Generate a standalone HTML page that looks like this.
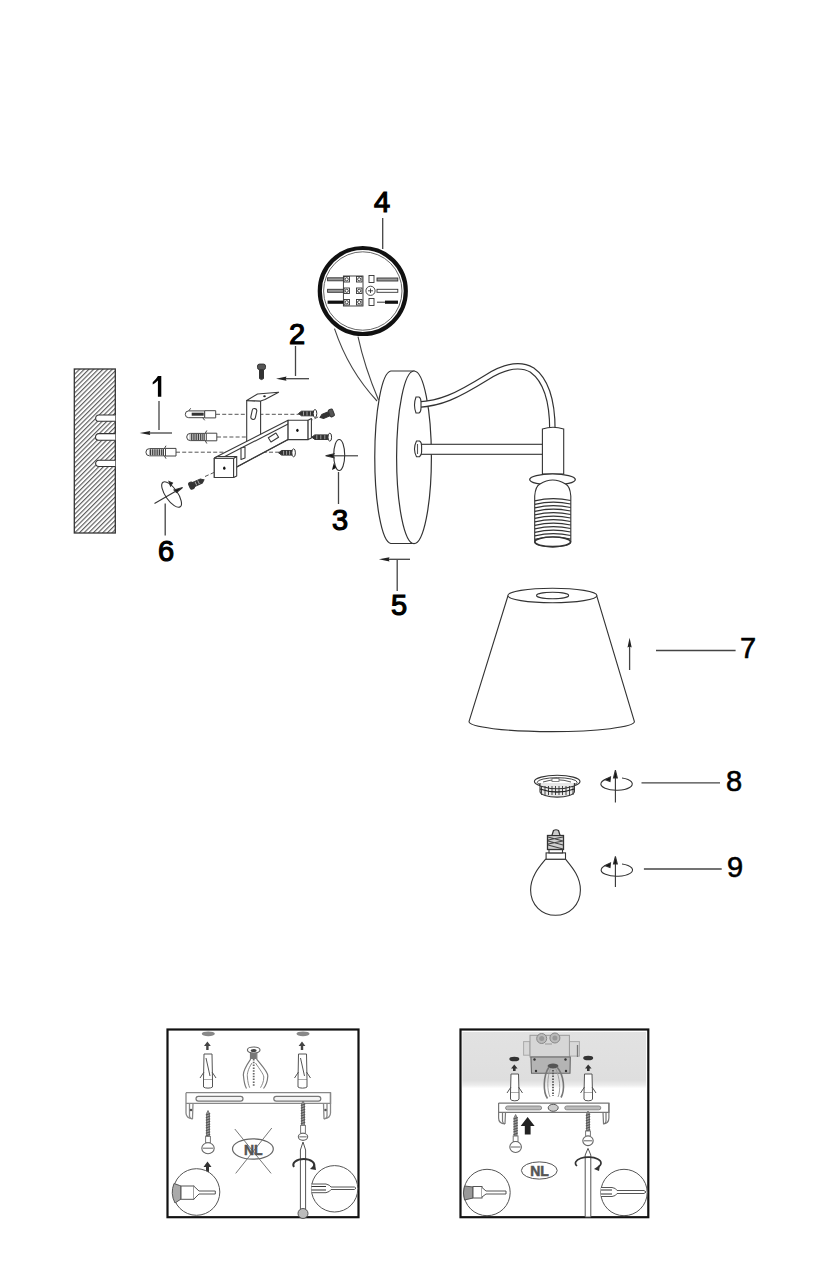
<!DOCTYPE html>
<html><head><meta charset="utf-8">
<style>
html,body{margin:0;padding:0;background:#fff;}
body{width:827px;height:1280px;overflow:hidden;}
svg{display:block;}
text{font-family:"Liberation Sans",sans-serif;}
</style></head><body>
<svg width="827" height="1280" viewBox="0 0 827 1280">
<defs>
<pattern id="hatch" patternUnits="userSpaceOnUse" width="3.3" height="3.3" patternTransform="rotate(45)">
<rect width="3.3" height="3.3" fill="#fff"/>
<line x1="0.6" y1="0" x2="0.6" y2="3.3" stroke="#555" stroke-width="1.1"/>
</pattern>
<pattern id="ribs" patternUnits="userSpaceOnUse" width="1.8" height="4">
<rect width="1.8" height="4" fill="#ccc"/>
<rect width="0.9" height="4" fill="#333"/>
</pattern>
<linearGradient id="ceil" x1="0" y1="0" x2="0" y2="1">
<stop offset="0" stop-color="#e2e2e2"/>
<stop offset="0.5" stop-color="#e0e0e0"/>
<stop offset="0.86" stop-color="#dedede"/>
<stop offset="0.95" stop-color="#ededed"/>
<stop offset="1" stop-color="#fdfdfd"/>
</linearGradient>
</defs>

<!-- ===== Labels ===== -->
<path d="M157.9,376.1 H161.3 V396.8 H157.9 V380.6 Q155.5,383.2 152.7,384.6 V382.2 Q155.8,379.8 157.9,376.1 Z" fill="#000"/>
<g id="labels" font-size="29" fill="#000" text-anchor="middle">
<g stroke="#000" stroke-width="1.2">
<text x="297" y="344">2</text>
<text x="340" y="530">3</text>
<text x="382" y="212">4</text>
<text x="399" y="615">5</text>
<text x="166" y="561">6</text>
</g>
<g stroke="#000" stroke-width="0.6">
<text x="748" y="658">7</text>
<text x="734" y="791">8</text>
<text x="735" y="877">9</text>
</g>
</g>

<!-- leader lines and arrows -->
<g id="leaders" stroke="#444" stroke-width="1.3" fill="none">
<line x1="159" y1="401" x2="159" y2="430"/>
<line x1="148" y1="433" x2="172" y2="433"/>
<line x1="295.5" y1="346" x2="295.5" y2="376"/>
<line x1="284" y1="378.7" x2="309" y2="378.7"/>
<line x1="338.5" y1="472" x2="338.5" y2="504"/>
<line x1="382.7" y1="218" x2="382.7" y2="249"/>
<line x1="397.2" y1="560" x2="397.2" y2="591"/>
<line x1="387" y1="559.3" x2="410" y2="559.3"/>
<line x1="165.2" y1="503.6" x2="165.2" y2="535.6"/>
<line x1="656" y1="650.5" x2="735.6" y2="650.5"/>
<line x1="629.6" y1="645" x2="629.6" y2="670"/>
<line x1="641.5" y1="782.8" x2="720" y2="782.8"/>
<line x1="643.9" y1="869" x2="721.7" y2="869"/>
</g>
<g id="arrowheads" fill="#222">
<polygon points="139.7,433 150.3,430.9 149.5,433 150.3,435.1"/>
<polygon points="276,378.7 286.5,376.6 285.7,378.7 286.5,380.8"/>
<polygon points="378.9,559.3 389.5,557.2 388.7,559.3 389.5,561.4"/>
<polygon points="629.6,637.8 627.5,647.5 629.6,646.5 631.7,647.5"/>
</g>

<!-- ===== Wall block ===== -->
<g id="wall">
<rect x="74.3" y="369" width="41" height="164" fill="url(#hatch)" stroke="#333" stroke-width="1.3"/>
<g fill="#fff" stroke="#333" stroke-width="1.1">
<path d="M115.3,415 H98.8 A3.15,3.15 0 0 0 98.8,421.3 H115.3"/>
<path d="M115.3,433.6 H98.8 A3.3,3.3 0 0 0 98.8,440.2 H115.3"/>
<path d="M115.3,460.2 H98.8 A3.15,3.15 0 0 0 98.8,466.5 H115.3"/>
</g>
</g>


<!-- ===== Bracket ===== -->
<g id="bracket" stroke="#3a3a3a" stroke-width="1.1" fill="#fff" stroke-linejoin="round">
<!-- dashed lines -->
<g stroke="#555" stroke-width="1" stroke-dasharray="4,2.2" fill="none">
<line x1="216" y1="414.3" x2="300" y2="414.3"/>
<line x1="217" y1="437" x2="312" y2="437"/>
<line x1="176" y1="452.2" x2="279" y2="452.2"/>
<line x1="205" y1="476.5" x2="224" y2="468"/>
<line x1="309" y1="421.5" x2="320" y2="416"/>
</g>
<!-- vertical plate -->
<polygon points="246.7,400.5 260.6,401 260.6,436 246.7,442"/>
<polygon points="246.7,400.5 257.5,394 278.6,392.2 265,399.5 260.6,401"/>
<ellipse cx="264.5" cy="396.2" rx="1.3" ry="1" fill="#222" stroke="none"/>
<rect x="251.5" y="408.5" width="4.6" height="11" rx="2.3" transform="rotate(12 253.8 414)"/>
<!-- beam -->
<polygon points="217,456.5 288.1,420.3 288.1,439.6 236.7,467 233.6,477.5 214.3,477.5 214.3,458.2"/>
<line x1="219" y1="459.5" x2="290" y2="423" fill="none"/>
<line x1="236.7" y1="466.9" x2="288.1" y2="439.6" fill="none"/>
<!-- right box -->
<rect x="288.1" y="420.3" width="20" height="19.3"/>
<polygon points="308.1,420.3 311.4,418.5 311.4,438 308.1,439.6"/>
<ellipse cx="297.4" cy="430.3" rx="1.2" ry="1.6" fill="#111" stroke="none"/>
<!-- left box -->
<rect x="214.3" y="458.2" width="19.3" height="19.3"/>
<polygon points="233.6,458.2 236.7,456.5 236.7,476 233.6,477.5"/>
<polygon points="214.3,458.2 217,456.5 236.7,456.5 233.6,458.2"/>
<ellipse cx="224.3" cy="468.2" rx="1.2" ry="1.6" fill="#111" stroke="none"/>
<!-- slots -->
<rect x="269" y="435" width="9" height="5" transform="rotate(-32 273.5 437.6)"/>
<polygon points="241,448 245,447 245,458 241,459.5"/>
</g>

<!-- ===== Plugs ===== -->
<g id="plugs" stroke="#444" stroke-width="1" stroke-linejoin="round">
<g transform="translate(146.5,452.2)">
<path d="M3,-3.6 H17 V3.6 H3 A3.6,3.6 0 0 1 3,-3.6 Z" fill="#fff"/>
<rect x="2.5" y="-3" width="14" height="6" fill="url(#ribs)" stroke="none"/>
<rect x="19" y="-3.8" width="10.5" height="7.6" fill="#fff"/>
<path d="M17,-3.6 L19,-3.8 M17,3.6 L19,3.8 M18,-3.8 L19.5,-6.5 M18,3.8 L19.5,6.5" fill="none"/>
</g>
<g transform="translate(187.3,437)">
<path d="M3,-3.6 H17 V3.6 H3 A3.6,3.6 0 0 1 3,-3.6 Z" fill="#fff"/>
<rect x="2.5" y="-3" width="14" height="6" fill="url(#ribs)" stroke="none"/>
<rect x="19" y="-3.8" width="10.5" height="7.6" fill="#fff"/>
<path d="M17,-3.6 L19,-3.8 M17,3.6 L19,3.8 M18,-3.8 L19.5,-6.5 M18,3.8 L19.5,6.5" fill="none"/>
</g>
<g transform="translate(185.7,414.3)">
<path d="M3,-3.4 H19 V3.4 H3 A3.4,3.4 0 0 1 3,-3.4 Z" fill="#fff"/>
<rect x="6" y="-1.6" width="12" height="3" fill="#333" stroke="none"/>
<rect x="19" y="-3.6" width="11" height="7.2" fill="#fff"/>
<path d="M3,-3.4 L5,-6 M17,3.4 L19,6" fill="none"/>
</g>
</g>

<!-- ===== Screws ===== -->
<g id="screws" stroke="#333" stroke-width="1">
<g transform="translate(278.6,452.8)">
<path d="M0,0 L3,-2.3 H13.5 V2.3 H3 Z" fill="#333"/>
<path d="M5,-2 V2 M8,-2 V2 M11,-2 V2" stroke="#bbb" stroke-width="0.8"/>
<ellipse cx="15" cy="0" rx="1.8" ry="4" fill="#fff"/>
</g>
<g transform="translate(298.5,413.5)">
<path d="M0,0 L3,-2.3 H15 V2.3 H3 Z" fill="#333"/>
<path d="M5,-2 V2 M8.5,-2 V2 M12,-2 V2" stroke="#bbb" stroke-width="0.8"/>
<ellipse cx="16.5" cy="0" rx="1.8" ry="4" fill="#fff"/>
</g>
<g transform="translate(311.8,437.2)">
<path d="M0,0 L3,-2.3 H16 V2.3 H3 Z" fill="#333"/>
<path d="M5,-2 V2 M9,-2 V2 M13,-2 V2" stroke="#bbb" stroke-width="0.8"/>
<ellipse cx="18" cy="0" rx="1.8" ry="4" fill="#fff"/>
</g>
<g transform="translate(320,417.5) rotate(-22)">
<path d="M0,0 L3,-2.2 H10 V2.2 H3 Z" fill="#333"/>
<rect x="10" y="-3.8" width="4.5" height="7.6" rx="1.5" fill="#555"/>
</g>
<g transform="translate(189.5,486.5) rotate(-25)">
<rect x="0" y="-3.6" width="4.5" height="7.2" rx="2" fill="#333"/>
<path d="M4.5,-2.3 H13 L16,0 L13,2.3 H4.5 Z" fill="#333"/>
<path d="M7,-2 V2 M10,-2 V2" stroke="#bbb" stroke-width="0.8"/>
</g>
<g transform="translate(261.5,379.6) rotate(-90)">
<path d="M0,0 L1,-2 H10 V2 H1 Z" fill="#333"/>
<rect x="10" y="-4" width="5.5" height="8" rx="2" fill="#555"/>
</g>
</g>

<!-- ===== rotation icons 3 & 6 ===== -->
<g id="rot36" stroke="#333" stroke-width="1.1" fill="none">
<ellipse cx="339.2" cy="455" rx="5.5" ry="15.5"/>
<line x1="330" y1="455.8" x2="358" y2="455.8"/>
<polygon points="325.6,455.8 334,453.8 333,455.8 334,457.8" fill="#111"/>
<polygon points="333.8,463 332,470 336,468" fill="#111" stroke="none"/>
<ellipse cx="171.6" cy="494.5" rx="6" ry="15" transform="rotate(-35 171.6 494.5)"/>
<line x1="154.5" y1="503.6" x2="177" y2="490.5"/>
<polygon points="182.6,487.6 174,490 176.5,492.5" fill="#111"/>
<polygon points="169,481.5 172.5,483 170.5,486" fill="#111"/>
</g>


<!-- ===== Circle 4 (wiring detail) ===== -->
<g id="c4">
<path d="M334.5,328.7 C345,360 362,385 377,401" stroke="#444" stroke-width="1.1" fill="none"/>
<path d="M358,336.7 C363,360 370,380 378.5,400" stroke="#444" stroke-width="1.1" fill="none"/>
<circle cx="362.8" cy="291" r="43" fill="#fff" stroke="#111" stroke-width="4.2"/>
<circle cx="362.8" cy="291" r="39.2" fill="none" stroke="#555" stroke-width="0.9"/>
<g stroke="#333" stroke-width="0.9" fill="#fff">
<rect x="343.4" y="276" width="19.6" height="30" fill="#fff"/>
<rect x="344" y="276.5" width="5.5" height="5.5"/><rect x="356.5" y="276.5" width="5.5" height="5.5"/>
<rect x="344" y="288" width="5.5" height="5.5"/><rect x="356.5" y="288" width="5.5" height="5.5"/>
<rect x="344" y="299.5" width="5.5" height="5.5"/><rect x="356.5" y="299.5" width="5.5" height="5.5"/>
<circle cx="346.7" cy="279.3" r="1.6"/><circle cx="359.2" cy="279.3" r="1.6"/>
<circle cx="346.7" cy="290.8" r="1.6"/><circle cx="359.2" cy="290.8" r="1.6"/>
<circle cx="346.7" cy="302.2" r="1.6"/><circle cx="359.2" cy="302.2" r="1.6"/>
<rect x="327.6" y="277.8" width="15.8" height="3" fill="#999"/>
<rect x="327.6" y="289.3" width="15.8" height="3" fill="#999"/>
<rect x="369" y="275.5" width="5" height="7"/>
<rect x="369" y="298.5" width="5" height="7"/>
<circle cx="370.5" cy="290.8" r="4.6"/>
<line x1="368" y1="290.8" x2="373" y2="290.8"/><line x1="370.5" y1="288.5" x2="370.5" y2="293"/>
<rect x="377" y="278" width="20.8" height="3" fill="#999"/>
<rect x="377" y="289.3" width="20.8" height="3" fill="#fff"/>
</g>
<rect x="327.6" y="300.6" width="15.8" height="3.2" fill="#111"/>
<rect x="385" y="300.6" width="13" height="3.2" fill="#111"/>
<line x1="377" y1="302.2" x2="385" y2="302.2" stroke="#333" stroke-width="1"/>
</g>

<!-- ===== Disc (wall plate) ===== -->
<g id="disc" stroke="#333" stroke-width="1.2" fill="#fff">
<path d="M390.8,371 H414 V543.5 H390.8 A16.6,86.3 0 0 1 390.8,371 Z"/>
<ellipse cx="414" cy="457.3" rx="17.4" ry="86.3"/>
</g>
<!-- arm -->
<g id="arm" fill="none" stroke-linecap="butt">
<path d="M418.5,404.6 C440,403.5 455,397 487,377.2 C505,366 520,363 532,370 C546,380 552.4,400 552.4,430" stroke="#333" stroke-width="6.6"/>
<path d="M418.5,404.6 C440,403.5 455,397 487,377.2 C505,366 520,363 532,370 C546,380 552.4,400 552.4,430" stroke="#fff" stroke-width="4.2"/>
<rect x="421" y="444.3" width="123" height="10" fill="#fff" stroke="#333" stroke-width="1.1"/>
</g>
<g stroke="#333" stroke-width="1.1" fill="#fff">
<path d="M416,397 Q413,405 416,413 H419 Q421,412 421,408 V402 Q421,398 419,397 Z"/>
<path d="M416.5,441 Q412.5,449 416.5,456.7 H419.5 Q421.6,455 421.6,452 V446 Q421.6,442 419.5,441 Z"/>
<line x1="417.5" y1="444" x2="417.5" y2="454" stroke="#555"/>
</g>
<!-- socket -->
<g id="socket" stroke="#333" stroke-width="1.1" fill="#fff">
<path d="M542.4,474 V429 Q553,425.5 563.7,429 V474 Z"/>
<ellipse cx="552.5" cy="479.5" rx="22.8" ry="5.6" stroke-width="1.3"/>
<path d="M534.7,542 V496 Q535.5,486 540,484 Q552.7,476 565.5,484 Q570,486 570.8,496 V542 A18.05,5 0 0 1 534.7,542 Z"/>
<g fill="none" stroke="#333" stroke-width="1.2">
<path d="M534.8,500.8 Q552.7,496.8 570.7,500.5"/>
<path d="M534.8,504.3 Q552.7,500.3 570.7,504.0"/>
<path d="M534.8,507.8 Q552.7,503.8 570.7,507.5"/>
<path d="M534.8,511.3 Q552.7,507.3 570.7,511.0"/>
<path d="M534.8,514.8 Q552.7,510.8 570.7,514.5"/>
<path d="M534.8,518.3 Q552.7,514.3 570.7,518.0"/>
<path d="M534.8,521.8 Q552.7,517.8 570.7,521.5"/>
<path d="M534.8,525.3 Q552.7,521.3 570.7,525.0"/>
<path d="M534.8,528.8 Q552.7,524.8 570.7,528.5"/>
<path d="M534.8,532.3 Q552.7,528.3 570.7,532.0"/>
<path d="M534.8,535.8 Q552.7,531.8 570.7,535.5"/>
<path d="M534.8,539.3 Q552.7,535.3 570.7,539.0"/>
</g>
<ellipse cx="552.7" cy="541.8" rx="17.8" ry="4.8" fill="#fff" stroke-width="1.6"/>
</g>

<!-- ===== Shade ===== -->
<g id="shade" stroke="#333" stroke-width="1.1" fill="#fff">
<path d="M507.9,596 L469,721.6 A82.7,10 0 0 0 634.4,721.6 L596.8,596 Z"/>
<ellipse cx="552.4" cy="595.5" rx="44.5" ry="7.3"/>
<ellipse cx="552.6" cy="595.5" rx="16" ry="3.2"/>
</g>

<!-- ===== Ring 8 ===== -->
<g id="ring" stroke="#333" stroke-width="1" fill="#fff">
<ellipse cx="557.2" cy="781.5" rx="22.8" ry="6.2" stroke-width="1.1"/>
<ellipse cx="557.2" cy="782.3" rx="20" ry="4.6" fill="none" stroke="#444"/>
<path d="M540,783 V791.5 A17.2,5.6 0 0 0 574.4,791.5 V783" fill="#e8e8e8" stroke-width="1.1"/>
<path d="M541.5,786 V795 M545.0,786 V795 M548.5,786 V795 M552.0,786 V795 M555.5,786 V795 M559.0,786 V795 M562.5,786 V795 M566.0,786 V795 M569.5,786 V795 M573.0,786 V795 " stroke="#444" stroke-width="1"/>
<path d="M540,789 Q557,795 574.4,789" fill="none" stroke="#222" stroke-width="1.3"/>
<path d="M540,786 Q557,791.5 574.4,786" fill="none" stroke="#333" stroke-width="1.2"/>
<path d="M543,782 Q557,777.5 571,782" fill="none" stroke="#555" stroke-width="1"/>
<rect x="552" y="778.5" width="7" height="3" fill="#fff" stroke="#666" stroke-width="0.8"/>
</g>

<!-- ===== Bulb 9 ===== -->
<g id="bulb" stroke="#333" stroke-width="1.1" fill="#fff">
<path d="M545.6,859.2 C540,866 530.6,876 530.6,890 C530.6,905 542,915.3 555.5,915.3 C569,915.3 580.4,905 580.4,890 C580.4,876 571,866 565.5,859.2 Z"/>
<rect x="546.1" y="852.9" width="19.4" height="6.3"/>
<rect x="549" y="849.5" width="13.5" height="3.4"/>
<rect x="547.5" y="835.5" width="16" height="14" fill="#d0d0d0" stroke-width="1.3"/>
<path d="M548,837 L563,841 M548,841 L563,845 M548,845 L563,849 M548,840 L563,837 M548,844 L563,841" stroke="#444" stroke-width="1.2"/>
<path d="M551.9,835.5 L553.5,830.5 Q556,829 558.5,830.5 L560.1,835.5 Z" fill="#ccc" stroke-width="1.2"/>
</g>

<!-- ===== rotation icons 8 & 9 ===== -->
<g id="rot89" stroke="#333" stroke-width="1.1" fill="none">
<path d="M609,778.4 A15.7,6.3 0 1 0 622,778"/>
<line x1="615.4" y1="774" x2="615.4" y2="802.5"/>
<polygon points="615.4,770.2 613.5,778 617.3,778" fill="#111"/>
<polygon points="605,779.6 610.5,777 610,781.5" fill="#111"/>
<path d="M609,864.5 A15.7,6.3 0 1 0 622,864"/>
<line x1="615.4" y1="860" x2="615.4" y2="887"/>
<polygon points="615.4,856.4 613.5,864 617.3,864" fill="#111"/>
<polygon points="605,865.6 610.5,863 610,867.5" fill="#111"/>
</g>


<!-- ===== Bottom-left box ===== -->
<g id="boxL">
<rect x="167.5" y="1029.5" width="191" height="187.7" fill="#fff" stroke="#111" stroke-width="2.2"/>
<g stroke="#555" stroke-width="1" fill="#fff">
<!-- top ellipses -->
<ellipse cx="208.3" cy="1033.8" rx="6.5" ry="2.4" fill="#888" stroke="none"/>
<ellipse cx="303" cy="1033.8" rx="6.5" ry="2.4" fill="#888" stroke="none"/>
<!-- up arrows -->
<path d="M207.4,1041.5 L204,1046 H206.2 V1050 H208.6 V1046 H210.8 Z" fill="#444" stroke="none"/>
<path d="M302,1041.5 L298.6,1046 H300.8 V1050 H303.2 V1046 H305.4 Z" fill="#444" stroke="none"/>
<!-- plugs -->
<path d="M204,1054 H212 L212.5,1080 H203.5 Z"/>
<path d="M203.5,1080 V1087 A5,2 0 0 0 212.5,1087 V1080"/>
<path d="M204,1072 L200,1078 M212,1072 L216,1078 M206,1058 L210,1076" fill="none"/>
<path d="M298.5,1054 H306.5 L307,1080 H298 Z"/>
<path d="M298,1080 V1087 A5,2 0 0 0 307,1087 V1080"/>
<path d="M298.5,1072 L294.5,1078 M306.5,1072 L310.5,1078 M300.5,1058 L304.5,1076" fill="none"/>
<!-- cable clamp -->
<path d="M250.5,1052 V1059.4 C246,1066 242.5,1072 243.5,1076 C244,1082 245,1086 246.5,1088.5 M256.8,1052 V1059.4 C262,1066 268,1072 267.8,1076 C267.5,1082 265.5,1086 263.5,1088.5" fill="none" stroke="#777" stroke-width="1.2"/>
<path d="M252,1063 C248,1069 247,1074 247.4,1077 C247.8,1082 248.5,1085 249.7,1087.7 M255.5,1063 C259.5,1069 263.5,1074 263.8,1077 C263.8,1082 262,1085 260.5,1087.7" fill="none" stroke="#888" stroke-width="1"/>
<ellipse cx="253.7" cy="1050" rx="6.3" ry="3" fill="#fff" stroke="#666" stroke-width="1.2"/>
<ellipse cx="253.7" cy="1050.5" rx="3" ry="1.6" fill="#444" stroke="none"/>
<path d="M251,1053 H256.5 V1059 H251 Z" fill="#777" stroke="none"/>
<line x1="253.7" y1="1059" x2="253.7" y2="1087" stroke="#666" stroke-width="1.8" stroke-dasharray="1.5,1.3"/>
<!-- bracket -->
<path d="M186,1092.7 H330.5 V1103.4 H323.5 L324,1118.5 Q326.5,1119 327,1116 L327,1103.4 M323.5,1103.4 H193 L192.5,1118.5 Q190,1119 189.5,1116 V1103.4 H186 Z" fill="#fff" stroke="#888" stroke-width="1.3"/><path d="M186,1092.7 V1113 Q186,1118 192.5,1118.8 M330.5,1092.7 V1113 Q330.5,1118 324,1118.8" fill="none" stroke="#888" stroke-width="1.3"/><circle cx="191" cy="1110" r="1.3" fill="#555" stroke="none"/><circle cx="325.5" cy="1110" r="1.3" fill="#555" stroke="none"/>
<rect x="196" y="1096.4" width="47" height="4.8" rx="2.4" fill="#f4f4f4" stroke="#777" stroke-width="1.2"/>
<rect x="273.8" y="1096.4" width="47" height="4.8" rx="2.4" fill="#f4f4f4" stroke="#777" stroke-width="1.2"/>
<!-- left screw -->
<path d="M208,1110.5 L206.5,1113.5 V1136.4 H209.5 V1113.5 Z" fill="#999" stroke="#666" stroke-width="0.8"/><path d="M205.8,1115.1 L210.2,1113.5 M205.8,1117.6999999999998 L210.2,1116.1 M205.8,1120.2999999999997 L210.2,1118.6999999999998 M205.8,1122.8999999999996 L210.2,1121.2999999999997 M205.8,1125.4999999999995 L210.2,1123.8999999999996 M205.8,1128.0999999999995 L210.2,1126.4999999999995 M205.8,1130.6999999999994 L210.2,1129.0999999999995 M205.8,1133.2999999999993 L210.2,1131.6999999999994 M205.8,1135.8999999999992 L210.2,1134.2999999999993 " stroke="#555" stroke-width="1.1" fill="none"/><rect x="205.6" y="1136.4" width="4.8" height="6.2999999999999545" fill="#fff" stroke="#777"/><ellipse cx="208" cy="1148.2" rx="6.2" ry="5.5" fill="#fff" stroke="#666" stroke-width="1.1"/><line x1="202.8" y1="1148.2" x2="213.2" y2="1148.2" stroke="#666"/>
<!-- right screw through bracket -->
<path d="M303,1101 L301.5,1104 V1125.4 H304.5 V1104 Z" fill="#999" stroke="#666" stroke-width="0.8"/><path d="M300.8,1105.6 L305.2,1104 M300.8,1108.1999999999998 L305.2,1106.6 M300.8,1110.7999999999997 L305.2,1109.1999999999998 M300.8,1113.3999999999996 L305.2,1111.7999999999997 M300.8,1115.9999999999995 L305.2,1114.3999999999996 M300.8,1118.5999999999995 L305.2,1116.9999999999995 M300.8,1121.1999999999994 L305.2,1119.5999999999995 M300.8,1123.7999999999993 L305.2,1122.1999999999994 " stroke="#555" stroke-width="1.1" fill="none"/><rect x="300.6" y="1125.4" width="4.8" height="7.899999999999864" fill="#fff" stroke="#777"/><ellipse cx="303" cy="1136.85" rx="4.7" ry="3.550000000000068" fill="#fff" stroke="#666" stroke-width="1.1"/><line x1="299.3" y1="1136.85" x2="306.7" y2="1136.85" stroke="#666"/>
<!-- NL crossed -->
<ellipse cx="252.9" cy="1149" rx="20.4" ry="10.2" fill="none" stroke="#666" stroke-width="1.2"/>
<line x1="234.8" y1="1129" x2="271.1" y2="1173.4" stroke="#777"/>
<line x1="271.8" y1="1128" x2="235.7" y2="1173.4" stroke="#777"/>
<!-- screwdriver -->
<path d="M303,1142 L300.4,1150 V1211 H305.6 V1150 Z" fill="#fff"/>
<circle cx="303" cy="1213.5" r="5" fill="#bbb"/>
<path d="M294,1167 A10.4,6 0 1 1 313.5,1167" fill="none" stroke="#333" stroke-width="2"/>
<polygon points="315,1164 310,1169 316,1170" fill="#333" stroke="none"/>
<!-- up arrow above circle -->
<path d="M207.5,1161.6 L203.5,1167 H206 V1172 H209 V1167 H211.5 Z" fill="#333" stroke="none"/>
<!-- left circle -->
<circle cx="196.5" cy="1192" r="23.3" fill="#fff"/>
<path d="M174,1183.5 Q181,1186 181,1186 V1199 L175,1203 A23.3,23.3 0 0 1 174,1183.5 Z" fill="#aaa"/>
<rect x="181" y="1186" width="12.7" height="13.3" fill="#fff"/>
<path d="M193.7,1186 L199,1191 H215.3 V1194 H199 L193.7,1199.3" fill="#fff"/>
<!-- right circle -->
<circle cx="334.6" cy="1188.8" r="23.2" fill="#fff"/>
<path d="M311.5,1184 H326 Q330,1185 331,1187 H354.4 L356,1188.2 L354.4,1189.5 H331 Q330,1191.8 326,1192.7 H311.5" fill="#fff"/>
<path d="M311.5,1186.5 H326 M311.5,1190 H326" stroke="#333" stroke-width="1.2"/>
</g>
</g>

<!-- ===== Bottom-right box ===== -->
<g id="boxR">
<rect x="460.5" y="1029.5" width="187.8" height="187.7" fill="#fff" stroke="#111" stroke-width="2.2"/>
<rect x="462.3" y="1032" width="183.8" height="56" fill="url(#ceil)"/>
<g stroke="#555" stroke-width="1" fill="#fff">
<!-- junction box -->
<rect x="523.6" y="1041.6" width="6.4" height="13.6" fill="#d8d8d8" stroke="#aaa"/>
<rect x="569.4" y="1041.6" width="10" height="14.5" fill="#d8d8d8" stroke="#aaa"/>
<line x1="577.5" y1="1045" x2="577.5" y2="1057" stroke="#777" stroke-width="1.3"/>
<rect x="530" y="1035.3" width="39.4" height="21.7" fill="#d6d6d6" stroke="#999"/>
<path d="M530.9,1057 H570.3 L570,1073.3 H531.5 Z" fill="#b4b4b4" stroke="#666" stroke-width="1.1"/>
<circle cx="534.5" cy="1059.5" r="1.2" fill="#333" stroke="none"/><circle cx="565.5" cy="1059.5" r="1.2" fill="#333" stroke="none"/>
<circle cx="536" cy="1071" r="1.2" fill="#333" stroke="none"/><circle cx="566" cy="1071" r="1.2" fill="#333" stroke="none"/>
<circle cx="541.7" cy="1038.5" r="5" fill="#bbb" stroke="#888"/>
<circle cx="554.9" cy="1038" r="5" fill="#bbb" stroke="#888"/>
<circle cx="541.7" cy="1038.5" r="2.5" fill="#999" stroke="none"/>
<circle cx="554.9" cy="1038" r="2.5" fill="#999" stroke="none"/>
<line x1="545" y1="1044" x2="552" y2="1044" stroke="#999"/>
<!-- clamp -->
<ellipse cx="553" cy="1066" rx="5.4" ry="2.4" fill="#555" stroke="none"/>
<path d="M549,1067 C543,1076 543,1092 547.5,1098.5 M557,1067 C564.5,1076 565,1090 561,1097.5" fill="none" stroke="#777" stroke-width="1.6"/>
<path d="M550.5,1068 C547,1078 547,1090 550,1097 M555.5,1068 C560,1078 561,1090 558,1097" fill="none" stroke="#999" stroke-width="0.9"/>
<line x1="553" y1="1070" x2="553" y2="1096" stroke="#555" stroke-width="1.8" stroke-dasharray="1.5,1.3"/>
<!-- ellipses -->
<ellipse cx="514.3" cy="1059" rx="5" ry="2.3" fill="#333" stroke="none"/>
<ellipse cx="588.2" cy="1058" rx="5" ry="2.3" fill="#333" stroke="none"/>
<path d="M514.3,1064.5 L511,1068.5 H513 V1071 H515.6 V1068.5 H517.6 Z" fill="#333" stroke="none"/>
<path d="M588.2,1064.5 L585,1068.5 H587 V1071 H589.6 V1068.5 H591.6 Z" fill="#333" stroke="none"/>
<!-- plugs -->
<path d="M511,1074 H518.5 L519,1093 H510.5 Z"/>
<path d="M510.5,1093 V1099 A4.2,1.8 0 0 0 519,1099 V1093"/>
<path d="M511,1087 L507,1093 M518.5,1087 L522.5,1093" fill="none"/>
<path d="M584.5,1074 H592 L592.5,1093 H584 Z"/>
<path d="M584,1093 V1099 A4.2,1.8 0 0 0 592.5,1099 V1093"/>
<path d="M584.5,1087 L580.5,1093 M592,1087 L596,1093" fill="none"/>
<!-- bracket -->
<path d="M498.6,1103.1 H608.9 V1112.4 H603 L603.5,1123.5 Q605.5,1124 606,1121 V1112.4 M603,1112.4 H505.5 L505,1123.5 Q503,1124 502.5,1121 V1112.4 H498.6 Z" fill="#fff" stroke="#777" stroke-width="1.2"/><path d="M498.6,1103.1 V1118 Q498.6,1123.5 505,1124 M608.9,1103.1 V1118 Q608.9,1123.5 603,1124" fill="none" stroke="#777" stroke-width="1.2"/>
<rect x="505.6" y="1106" width="36" height="3.8" rx="1.9" fill="#bbb" stroke="#888"/>
<rect x="564.8" y="1106" width="36" height="3.8" rx="1.9" fill="#bbb" stroke="#888"/>
<ellipse cx="553.2" cy="1107.8" rx="5" ry="3.5" fill="#ccc"/>
<!-- left screw -->
<path d="M515.6,1114.5 L514.1,1117.5 V1136 H517.1 V1117.5 Z" fill="#999" stroke="#666" stroke-width="0.8"/><path d="M513.4,1119.1 L517.8000000000001,1117.5 M513.4,1121.7 L517.8000000000001,1120.1 M513.4,1124.3 L517.8000000000001,1122.7 M513.4,1126.9 L517.8000000000001,1125.3 M513.4,1129.5 L517.8000000000001,1127.9 M513.4,1132.1 L517.8000000000001,1130.5 M513.4,1134.7 L517.8000000000001,1133.1 " stroke="#555" stroke-width="1.1" fill="none"/><rect x="513.2" y="1136" width="4.8" height="5.5" fill="#fff" stroke="#777"/><ellipse cx="515.6" cy="1147.0" rx="5.8" ry="5.5" fill="#fff" stroke="#666" stroke-width="1.1"/><line x1="510.8" y1="1147.0" x2="520.4" y2="1147.0" stroke="#666"/>
<!-- big arrow -->
<path d="M527.6,1117 L520.7,1126 H524.8 V1134.5 H530.6 V1126 H534.6 Z" fill="#222" stroke="none"/>
<!-- right screw -->
<path d="M588,1111 L586.5,1114 V1131 H589.5 V1114 Z" fill="#999" stroke="#666" stroke-width="0.8"/><path d="M585.8,1115.6 L590.2,1114.0 M585.8,1118.2 L590.2,1116.6 M585.8,1120.8 L590.2,1119.2 M585.8,1123.4 L590.2,1121.8 M585.8,1126.0 L590.2,1124.4 M585.8,1128.6 L590.2,1127.0 M585.8,1131.2 L590.2,1129.6 " stroke="#555" stroke-width="1.1" fill="none"/><rect x="585.6" y="1131" width="4.8" height="5.0" fill="#fff" stroke="#777"/><ellipse cx="588" cy="1140.8" rx="5.2" ry="4.8" fill="#fff" stroke="#666" stroke-width="1.1"/><line x1="583.8" y1="1140.8" x2="592.2" y2="1140.8" stroke="#666"/>
<!-- NL -->
<ellipse cx="539.3" cy="1170.5" rx="17.9" ry="8.6" fill="#fff"/>
<!-- screwdriver -->
<path d="M588,1148.4 L585.2,1155 V1217 H590.8 V1155 Z" fill="#fff"/>
<path d="M577,1166 A12.8,6 0 1 1 598,1167" fill="none" stroke="#333" stroke-width="1.6"/>
<polygon points="600,1165 594,1169 599,1171" fill="#333" stroke="none"/>
<!-- left circle -->
<circle cx="487" cy="1192.5" r="23.2" fill="#fff"/>
<path d="M464.5,1186 L473,1187 V1198 L464.5,1200 A23.2,23.2 0 0 1 464.5,1186 Z" fill="#999"/>
<rect x="473" y="1186.5" width="9" height="11.5" fill="#fff"/>
<path d="M482,1187.5 L486,1191 H506 V1194 H486 L482,1197" fill="#fff"/>
<!-- right circle -->
<circle cx="624" cy="1192.5" r="23.2" fill="#fff"/>
<path d="M601,1187.5 H612 Q616,1188 617,1190.5 H644 L646,1192 L644,1193.5 H617 Q616,1196 612,1196.5 H601" fill="#fff"/>
<path d="M601,1190 H612 M601,1194 H612" stroke="#333" stroke-width="1.2"/>
</g>
</g>
<g font-size="14" font-weight="bold" fill="#555" stroke="#555" stroke-width="0.5" text-anchor="middle">
<text x="253.3" y="1155.3">NL</text>
<text x="539.6" y="1175.5">NL</text>
</g>

</svg>
</body></html>
